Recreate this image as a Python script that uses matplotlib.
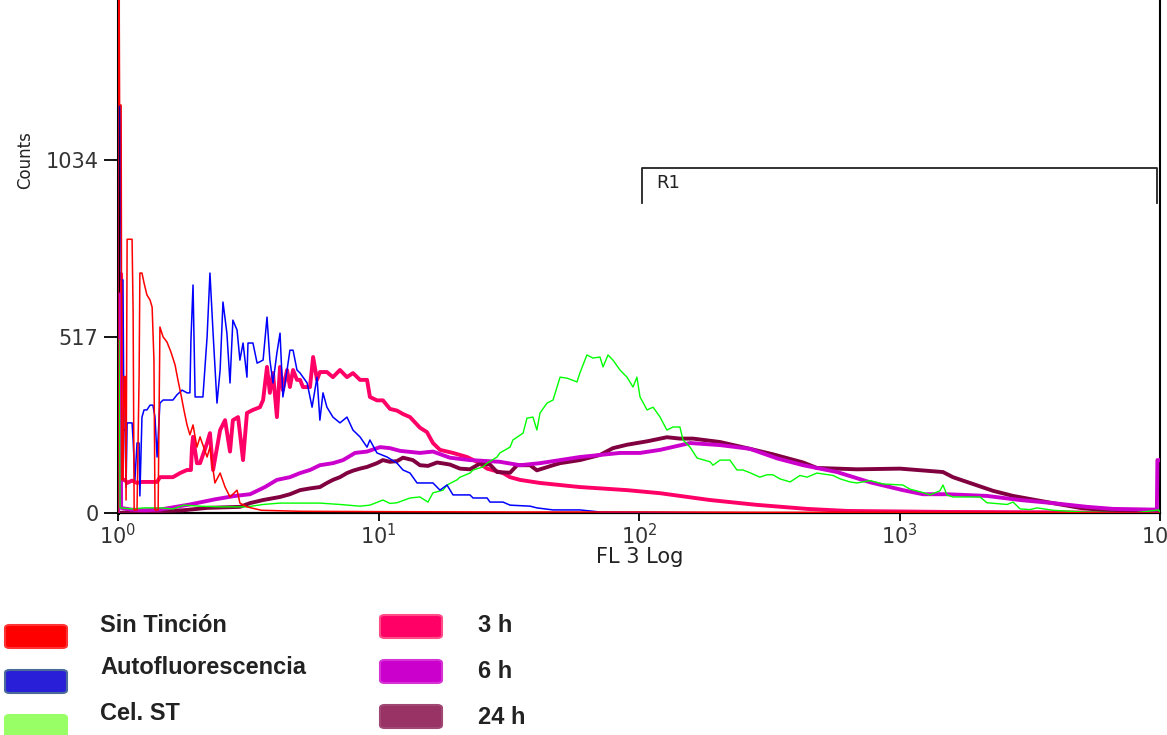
import numpy as np
import matplotlib
matplotlib.use("Agg")
import matplotlib.pyplot as plt
from matplotlib.patches import FancyBboxPatch

plt.rcParams['font.family'] = ['DejaVu Sans']

# x values are log10(FL 3), y values are counts
sin_x = [0.000, 0.000, 0.004, 0.006, 0.012, 0.015, 0.019, 0.023, 0.027, 0.031, 0.035, 0.054, 0.058, 0.062,
         0.073, 0.081, 0.084, 0.092, 0.100, 0.111, 0.123, 0.131, 0.138, 0.142, 0.154, 0.161, 0.173, 0.188,
         0.203, 0.219, 0.230, 0.242, 0.253, 0.265, 0.276, 0.288, 0.303, 0.315, 0.342, 0.353, 0.372, 0.392,
         0.411, 0.430, 0.457, 0.468, 0.495, 0.55, 0.7, 1.0, 1.5, 2.0, 2.5, 3.0, 3.5, 4.0]
sin_y = [0, 1600, 1600, 1195, 1195, 97, 97, 400, 400, 38, 802, 802, 589, 9,
         9, 400, 703, 703, 674, 639, 624, 603, 448, 9, 9, 545, 516, 501,
         472, 434, 390, 346, 302, 258, 229, 258, 193, 223, 164, 193, 88, 117,
         76, 47, 67, 29, 18, 8, 5, 4, 3, 3, 2, 2, 1, 0]

auto_x = [0.000, 0.000, 0.008, 0.012, 0.019, 0.023, 0.027, 0.031, 0.035, 0.054, 0.058, 0.065, 0.073, 0.081,
          0.084, 0.092, 0.100, 0.111, 0.123, 0.134, 0.142, 0.150, 0.161, 0.173, 0.211, 0.226, 0.246, 0.265,
          0.276, 0.280, 0.288, 0.296, 0.326, 0.342, 0.353, 0.365, 0.380, 0.392, 0.403, 0.418, 0.430, 0.441,
          0.457, 0.468, 0.480, 0.495, 0.499, 0.518, 0.534, 0.557, 0.572, 0.583, 0.595, 0.610, 0.622, 0.633,
          0.649, 0.660, 0.672, 0.687, 0.699, 0.726, 0.745, 0.764, 0.775, 0.787, 0.802, 0.825, 0.852, 0.879,
          0.902, 0.929, 0.956, 0.967, 0.994, 1.033, 1.071, 1.094, 1.121, 1.148, 1.209, 1.236, 1.263, 1.286,
          1.351, 1.363, 1.417, 1.428, 1.478, 1.505, 1.582, 1.608, 1.670, 1.773, 1.85, 2.2, 3.0, 4.0]
auto_y = [0, 1195, 1195, 683, 683, 243, 243, 76, 264, 264, 214, 97, 205, 205,
          50, 281, 302, 302, 316, 316, 281, 164, 322, 331, 331, 346, 360, 352,
          352, 507, 668, 340, 340, 516, 703, 527, 322, 419, 618, 527, 381, 565,
          536, 448, 498, 398, 498, 498, 439, 448, 574, 448, 381, 469, 527, 340,
          419, 477, 477, 419, 410, 381, 310, 398, 272, 352, 310, 281, 264, 281,
          243, 223, 193, 214, 176, 164, 146, 126, 117, 88, 88, 67, 82, 53,
          53, 44, 44, 32, 32, 23, 20, 15, 9, 9, 3, 1, 0, 0]

cel_x = [0.000, 0.000, 0.004, 0.008, 0.054, 0.100, 0.161, 0.211, 0.253, 0.315, 0.392, 0.495, 0.557, 0.622,
         0.699, 0.775, 0.852, 0.929, 0.967, 1.017, 1.044, 1.071, 1.121, 1.159, 1.190, 1.209, 1.248, 1.263,
         1.301, 1.313, 1.351, 1.363, 1.401, 1.417, 1.455, 1.466, 1.505, 1.516, 1.555, 1.570, 1.593, 1.608,
         1.620, 1.647, 1.670, 1.697, 1.724, 1.762, 1.773, 1.800, 1.823, 1.850, 1.862, 1.881, 1.900, 1.927,
         1.954, 1.977, 1.992, 2.004, 2.031, 2.054, 2.081, 2.107, 2.131, 2.157, 2.169, 2.196, 2.223, 2.273,
         2.284, 2.311, 2.349, 2.376, 2.399, 2.426, 2.464, 2.491, 2.514, 2.541, 2.580, 2.618, 2.645, 2.683,
         2.745, 2.772, 2.810, 2.837, 2.887, 2.937, 3.013, 3.040, 3.090, 3.117, 3.155, 3.167, 3.182, 3.205,
         3.309, 3.336, 3.413, 3.436, 3.463, 3.501, 3.528, 3.589, 3.70, 3.9, 3.995, 4.0]
cel_y = [0, 507, 507, 15, 12, 15, 15, 12, 23, 20, 18, 18, 25, 29,
         29, 29, 25, 20, 23, 38, 28, 30, 44, 47, 32, 59, 67, 82,
         97, 105, 117, 126, 135, 146, 164, 176, 193, 214, 234, 278, 281, 243,
         293, 322, 331, 398, 395, 384, 410, 463, 454, 457, 428, 463, 448, 419,
         398, 369, 398, 340, 302, 310, 281, 243, 252, 252, 214, 193, 161, 150,
         140, 155, 155, 126, 126, 118, 105, 112, 112, 100, 91, 110, 105, 117,
         110, 100, 91, 88, 95, 85, 82, 70, 60, 53, 65, 82, 53, 47,
         47, 30, 25, 32, 12, 10, 15, 8, 3, 0, 9, 0]

h3_x = [0.000, 0.000, 0.012, 0.015, 0.027, 0.035, 0.054, 0.073, 0.092, 0.115, 0.150, 0.161, 0.211, 0.238,
        0.265, 0.280, 0.284, 0.288, 0.303, 0.315, 0.342, 0.353, 0.365, 0.392, 0.411, 0.430, 0.441, 0.461,
        0.480, 0.495, 0.518, 0.545, 0.557, 0.572, 0.583, 0.595, 0.610, 0.622, 0.633, 0.649, 0.660, 0.672,
        0.687, 0.699, 0.710, 0.737, 0.749, 0.764, 0.775, 0.802, 0.825, 0.852, 0.879, 0.902, 0.929, 0.956,
        0.967, 0.994, 1.017, 1.044, 1.071, 1.094, 1.121, 1.159, 1.186, 1.209, 1.236, 1.286, 1.340, 1.378,
        1.417, 1.478, 1.505, 1.543, 1.620, 1.773, 1.954, 2.081, 2.234, 2.273, 2.45, 2.645, 2.8, 3.2, 3.6, 4.0]
h3_y = [0, 700, 700, 97, 97, 88, 95, 88, 91, 91, 91, 105, 105, 117,
        126, 126, 193, 223, 146, 146, 205, 234, 126, 243, 272, 180, 272, 281,
        155, 293, 302, 310, 331, 428, 352, 410, 281, 428, 360, 419, 369, 419,
        390, 390, 369, 369, 457, 390, 413, 413, 398, 419, 398, 410, 390, 390,
        340, 330, 330, 305, 300, 290, 281, 250, 237, 205, 185, 176, 164, 150,
        130, 117, 105, 97, 88, 76, 67, 58, 42, 38, 24, 12, 6, 3, 2, 0]

h6_x = [0.000, 0.000, 0.008, 0.012, 0.05, 0.1, 0.161, 0.276, 0.372, 0.449, 0.507, 0.564, 0.610, 0.660,
        0.699, 0.737, 0.775, 0.825, 0.864, 0.910, 0.956, 1.006, 1.044, 1.083, 1.159, 1.209, 1.274, 1.351,
        1.466, 1.543, 1.620, 1.697, 1.773, 1.850, 1.927, 2.004, 2.081, 2.196, 2.311, 2.426, 2.530, 2.630,
        2.760, 2.887, 3.013, 3.090, 3.182, 3.336, 3.463, 3.589, 3.720, 3.820, 3.973, 3.988, 3.990, 4.000]
h6_y = [0, 640, 640, 15, 10, 8, 10, 25, 40, 50, 55, 76, 97, 105,
        117, 126, 140, 146, 155, 176, 180, 193, 190, 182, 176, 180, 162, 155,
        150, 140, 146, 155, 164, 170, 176, 176, 185, 205, 199, 188, 160, 140,
        120, 90, 67, 55, 55, 50, 38, 29, 18, 12, 10, 10, 155, 155]

h24_x = [0.0, 0.05, 0.15, 0.25, 0.342, 0.468, 0.507, 0.557, 0.622, 0.660, 0.699, 0.737, 0.775, 0.802,
         0.825, 0.852, 0.879, 0.902, 0.929, 0.956, 0.994, 1.017, 1.044, 1.071, 1.094, 1.132, 1.159, 1.190,
         1.225, 1.274, 1.313, 1.351, 1.390, 1.428, 1.455, 1.505, 1.532, 1.582, 1.608, 1.670, 1.697, 1.773,
         1.850, 1.900, 1.954, 2.031, 2.107, 2.157, 2.207, 2.311, 2.426, 2.514, 2.630, 2.683, 2.837, 3.002,
         3.167, 3.205, 3.282, 3.359, 3.436, 3.566, 3.693, 3.820, 3.923, 4.0]
h24_y = [0, 3, 5, 8, 15, 18, 29, 38, 47, 55, 67, 72, 76, 88,
         97, 105, 117, 124, 130, 135, 146, 155, 150, 152, 162, 155, 140, 138,
         148, 142, 130, 128, 145, 142, 120, 118, 140, 140, 125, 140, 146, 155,
         170, 190, 200, 210, 222, 218, 218, 208, 188, 172, 148, 132, 128, 130,
         120, 105, 85, 65, 50, 32, 15, 6, 0, 0]

legend_labels = ['Sin Tinción', 'Autofluorescencia', 'Cel. ST', '3 h', '6 h', '24 h']
legend_colors = ['#ff0000', '#2a1fd8', '#99ff66', '#ff0066', '#cc00cc', '#993366']
line_colors = ['#ff0000', '#0000ff', '#00ff00', '#ff0066', '#cc00cc', '#800040']

y_ticks = [0, 517, 1034]
gate_lo, gate_hi, gate_y, gate_drop = 102.8, 9730, 1011, 908

fig = plt.figure(figsize=(11.67, 7.35), dpi=100)
ax = fig.add_axes([118 / 1167, 1 - 513 / 735, 1042 / 1167, 513 / 735])

ax.plot(10 ** np.array(h3_x), h3_y, color=line_colors[3], lw=2.8, zorder=2)
ax.plot(10 ** np.array(h24_x), h24_y, color=line_colors[5], lw=2.8, zorder=3)
ax.plot(10 ** np.array(h6_x), h6_y, color=line_colors[4], lw=2.8, zorder=4)
ax.plot(10 ** np.array(cel_x), cel_y, color=line_colors[2], lw=1.0, zorder=5)
ax.plot(10 ** np.array(auto_x), auto_y, color=line_colors[1], lw=1.1, zorder=6)
ax.plot(10 ** np.array(sin_x), sin_y, color=line_colors[0], lw=1.1, zorder=7)

# gate R1
ax.plot([gate_lo, gate_lo, gate_hi, gate_hi], [gate_drop, gate_y, gate_y, gate_drop],
        color='#222222', lw=1.3, zorder=8)
ax.text(gate_lo * 1.13, (gate_y + gate_drop) / 2 + 8, 'R1', fontsize=13, color='#222222',
        ha='left', va='center')

ax.set_xscale('log')
ax.set_xlim(1, 1e4)
ax.set_ylim(0, 1503)
ax.set_xticks([1, 10, 100, 1000, 10000])
ax.minorticks_off()
ax.set_yticks(y_ticks)
ax.set_yticklabels([str(t) for t in y_ticks])
ax.tick_params(axis='y', length=10, width=1.3, pad=4, labelsize=15, labelcolor='#333333')
ax.tick_params(axis='x', length=6, width=1.3, pad=1, labelsize=15, labelcolor='#333333')

ax.spines['top'].set_visible(False)
ax.spines['left'].set_linewidth(2.2)
ax.spines['bottom'].set_linewidth(1.6)
ax.spines['right'].set_linewidth(1.5)
ax.patch.set_alpha(0)

fig.text(25 / 1167, 1 - 160 / 735, 'Counts', rotation=90, fontsize=12, color='#222222',
         ha='center', va='center')
fig.text(640 / 1167, 1 - 557 / 735, 'FL 3 Log', fontsize=15, color='#222222',
         ha='center', va='center')

# legend below the plot
sw_left = [5, 5, 5, 380, 380, 380]
sw_top = [625, 670, 715, 615, 660, 705]
txt_left = [100, 100, 100, 478, 478, 478]
txt_mid = [626, 668, 713, 626, 672, 718]
edges = ['#ff3333', '#4a6a9a', '#99ff66', '#ff4d88', '#d633d6', '#a04773']
for i in range(6):
    box = FancyBboxPatch((sw_left[i] / 1167, 1 - (sw_top[i] + 23) / 735), 62 / 1167, 23 / 735,
                         boxstyle='round,pad=0,rounding_size=0.004', transform=fig.transFigure,
                         facecolor=legend_colors[i], edgecolor=edges[i], lw=1.5)
    fig.patches.append(box)
    fig.text(txt_left[i] / 1167, 1 - txt_mid[i] / 735, legend_labels[i], fontsize=17,
             family=['Liberation Sans', 'DejaVu Sans'], weight='bold', color='#222222',
             ha='left', va='center')

fig.savefig('out.png', dpi=100)
